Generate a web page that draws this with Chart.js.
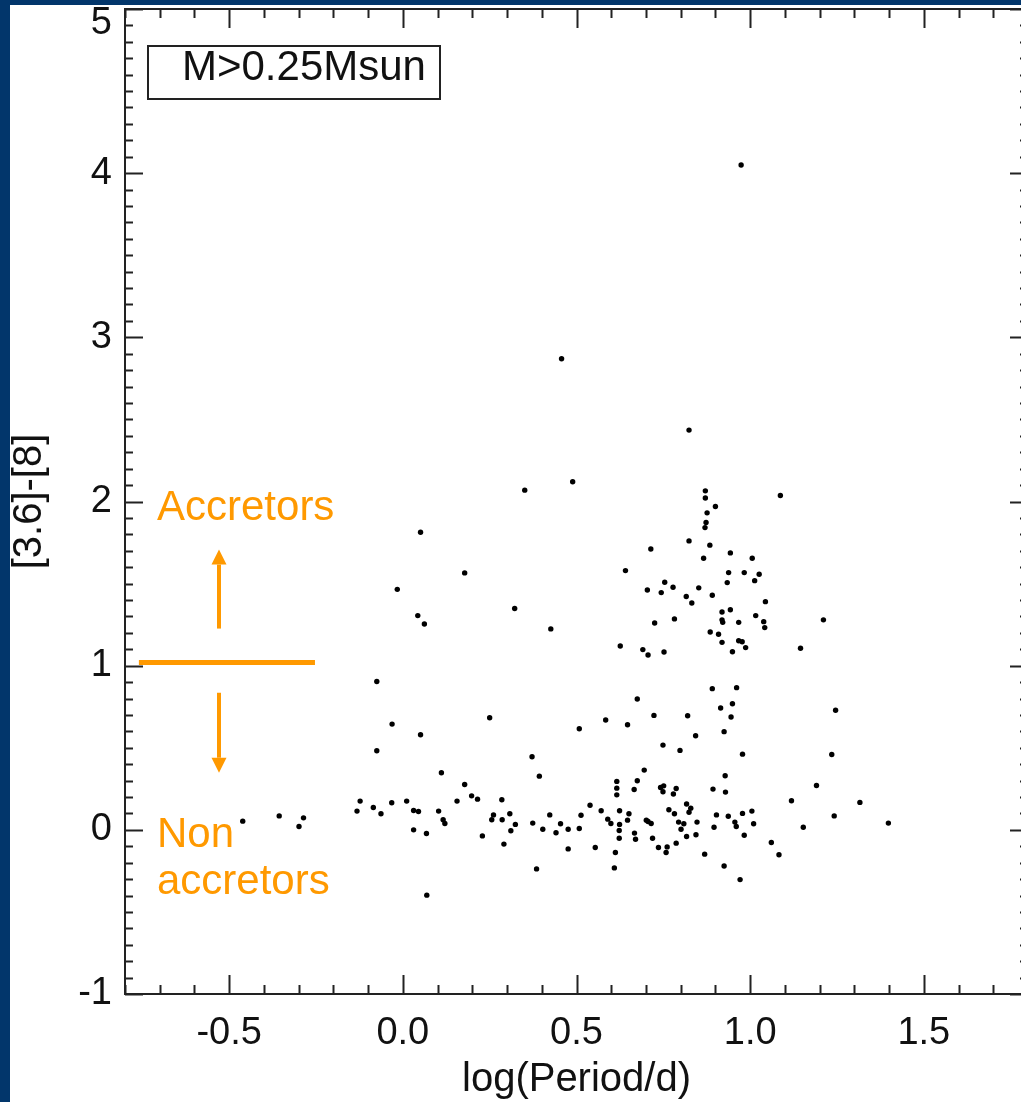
<!DOCTYPE html>
<html>
<head>
<meta charset="utf-8">
<title>[3.6]-[8] vs log(Period/d)</title>
<script src="https://cdn.jsdelivr.net/npm/chart.js@4.4.1/dist/chart.umd.min.js"></script>
<style>
    html, body { margin: 0; padding: 0; background: #ffffff; overflow: hidden; }
    #wrap { position: relative; width: 1021px; height: 1102px; overflow: hidden; }
    #perfChart { position: absolute; left: 0; top: 0; }
    .band { position: absolute; background: #02366b; }
    #bandLeft { left: 0; top: 0; width: 10px; height: 1102px; }
    #bandTop  { left: 0; top: 0; width: 1021px; height: 5px; }
</style>
</head>
<body>
<div id="wrap">
    <canvas id="perfChart" width="1040" height="1102"></canvas>
    <div class="band" id="bandLeft"></div>
    <div class="band" id="bandTop"></div>
</div>
<script>
// ═══════════════════════════════════════════════════════════════
// DATA
// ═══════════════════════════════════════════════════════════════

var logPeriod = [
    0.974, 0.457, 0.824, 0.489, 0.351, 0.871, 0.871, 1.087, 0.900, 0.876,
    0.873, 0.870, 0.051, 0.824, 0.884, 0.714, 0.943, 0.866, 1.006, 0.641,
    0.178, 0.938, 0.983, 1.026, 1.013, 0.934, 0.754, 0.778, -0.016, 0.704,
    0.744, 0.852, 0.816, 0.832, 0.891, 1.044, 0.943, 0.322, 0.919, 0.043,
    1.016, 0.782, 0.919, 0.921, 0.967, 1.039, 1.042, 0.725, 1.211, 0.062,
    0.426, 0.885, 0.909, 0.919, 0.967, 0.977, 0.987, 0.949, 0.626, 0.691,
    0.706, 0.752, 1.145,
    -0.075, -0.031, -0.075, 0.051, 0.250, 0.372, 0.393, 0.111, 0.178, 0.198,
    0.215, -0.461, -0.356, -0.286, -0.299, -0.132, -0.123, -0.085, -0.063, -0.032,
    0.011, 0.031, 0.045, 0.031, 0.068, 0.103, 0.116, 0.121, 0.156, 0.229,
    0.285, 0.261, 0.256, 0.286, 0.308, 0.324, 0.311, 0.291, 0.385, 0.374,
    0.423, 0.403, 0.441, 0.454, 0.476, 0.476, 0.069,
    0.508, 0.508, 0.513, 0.539, 0.554, 0.571, 0.584, 0.647, 0.675, 0.723,
    0.820, 0.891, 0.961, 0.915, 0.949, 0.945, 0.925, 0.843, 0.749, 0.798,
    0.978, 1.246, 1.235, 0.695, 0.616, 0.616, 0.616, 0.675, 0.666, 0.742,
    0.751, 0.749, 0.787, 0.779, 0.893, 0.928, 0.929, 1.191, 1.119, 1.316,
    1.242, 1.398, 1.153, 1.061, 1.083, 0.971, 0.925, 0.869, 0.609, 0.612,
    0.624, 0.651, 0.647, 0.590, 0.599, 0.624, 0.623, 0.623, 0.667, 0.670,
    0.701, 0.706, 0.715, 0.719, 0.736, 0.761, 0.758, 0.787, 0.766, 0.782,
    0.794, 0.809, 0.801, 0.817, 0.817, 0.829, 0.824, 0.847, 0.844, 0.903,
    0.896, 0.937, 0.956, 0.960, 0.978, 1.005, 1.010, 0.983
];

var irxColor = [
    4.050, 2.870, 2.435, 2.120, 2.069, 2.065, 2.021, 2.037, 1.970, 1.931,
    1.872, 1.841, 1.813, 1.760, 1.734, 1.711, 1.687, 1.654, 1.654, 1.579,
    1.565, 1.567, 1.567, 1.557, 1.518, 1.506, 1.508, 1.478, 1.465, 1.461,
    1.445, 1.474, 1.421, 1.382, 1.429, 1.390, 1.341, 1.348, 1.327, 1.305,
    1.305, 1.285, 1.279, 1.264, 1.264, 1.268, 1.232, 1.260, 1.279, 1.254,
    1.224, 1.205, 1.191, 1.142, 1.152, 1.146, 1.110, 1.085, 1.120, 1.098,
    1.065, 1.083, 1.106,
    0.904, 0.644, 0.482, 0.579, 0.683, 0.445, 0.327, 0.348, 0.276, 0.207,
    0.187, 0.053, 0.085, 0.073, 0.020, 0.114, 0.175, 0.136, 0.098, 0.165,
    0.175, 0.118, 0.112, 0.000, -0.022, 0.114, 0.061, 0.039, 0.175, -0.037,
    0.183, 0.091, 0.061, 0.061, 0.098, 0.033, -0.006, -0.087, -0.238, 0.041,
    0.091, 0.004, -0.018, 0.037, 0.004, -0.116, -0.398,
    0.616, 0.008, 0.089, 0.150, -0.108, 0.116, 0.669, 0.640, 0.797, 0.697,
    0.695, 0.860, 0.866, 0.742, 0.768, 0.687, 0.598, 0.573, 0.516, 0.484,
    0.461, 0.728, 0.459, 0.364, 0.295, 0.254, 0.213, 0.299, 0.246, 0.258,
    0.268, 0.232, 0.252, 0.218, 0.248, 0.329, 0.230, 0.270, 0.177, 0.167,
    0.085, 0.041, 0.016, -0.077, -0.152, -0.303, -0.220, -0.148, -0.232, -0.138,
    0.116, 0.098, 0.059, 0.065, 0.039, 0.033, -0.004, -0.051, -0.020, -0.057,
    0.059, 0.051, 0.039, -0.051, -0.108, -0.104, -0.138, -0.081, 0.122, 0.098,
    0.047, 0.037, 0.004, -0.041, 0.157, 0.132, 0.107, 0.047, -0.030, 0.091,
    0.016, 0.083, 0.047, 0.020, 0.100, 0.114, 0.037, -0.033
];

var xTickValues = [-0.5, 0.0, 0.5, 1.0, 1.5];
var yTickValues = [-1, 0, 1, 2, 3, 4, 5];

var panelLabel   = 'M>0.25Msun';
var xAxisTitle   = 'log(Period/d)';
var yAxisTitle   = '[3.6]-[8]';
var upperLabel   = 'Accretors';
var lowerLabel   = ['Non', 'accretors'];

// ═══════════════════════════════════════════════════════════════
// STYLE
// ═══════════════════════════════════════════════════════════════

var FONT   = '"Liberation Sans", Arial, Helvetica, sans-serif';
var INK    = '#111111';
var ORANGE = '#ff9900';

var points = logPeriod.map(function (x, i) { return { x: x, y: irxColor[i] }; });

// ═══════════════════════════════════════════════════════════════
// PLUGIN: IDL style frame with inward ticks + "5" label
// ═══════════════════════════════════════════════════════════════

var idlFrame = {
    id: 'idlFrame',
    afterDraw: function (chart) {
        var c  = chart.ctx;
        var a  = chart.chartArea;
        var sx = chart.scales.x;
        var sy = chart.scales.y;
        var v, p;

        c.save();
        c.strokeStyle = '#222222';
        c.lineWidth = 2;
        c.strokeRect(a.left, a.top, a.right - a.left, a.bottom - a.top);

        c.beginPath();
        // x ticks, bottom and top
        for (v = -8; v <= 18; v++) {
            p = Math.round(sx.getPixelForValue(v / 10)) + 0.5;
            var lx = (v % 5 === 0) ? 19 : 9;
            c.moveTo(p, a.bottom); c.lineTo(p, a.bottom - lx);
            c.moveTo(p, a.top);    c.lineTo(p, a.top + lx);
        }
        // y ticks, left and right
        for (v = -10; v <= 50; v++) {
            p = Math.round(sy.getPixelForValue(v / 10)) + 0.5;
            var ly = (v % 10 === 0) ? 18 : 8;
            c.moveTo(a.left, p);  c.lineTo(a.left + ly, p);
            c.moveTo(a.right, p); c.lineTo(a.right - ly, p);
        }
        c.stroke();

        // top "5" label sits lower than its tick in the figure
        c.fillStyle = INK;
        c.font = '38px ' + FONT;
        c.textAlign = 'right';
        c.textBaseline = 'middle';
        c.fillText('5', a.left - 13, sy.getPixelForValue(5) + 15);
        c.restore();
    }
};

// ═══════════════════════════════════════════════════════════════
// PLUGIN: panel label box + orange accretor annotations
// ═══════════════════════════════════════════════════════════════

var annotations = {
    id: 'annotations',
    afterDraw: function (chart) {
        var c  = chart.ctx;
        var a  = chart.chartArea;
        var sx = chart.scales.x;
        var sy = chart.scales.y;

        c.save();

        // panel label
        c.strokeStyle = '#222222';
        c.lineWidth = 2;
        c.strokeRect(a.left + 23, a.top + 37, 292, 53);
        c.fillStyle = INK;
        c.font = '42px ' + FONT;
        c.textAlign = 'left';
        c.textBaseline = 'alphabetic';
        c.fillText(panelLabel, a.left + 57, a.top + 71);

        // divider at [3.6]-[8] ~ 1
        var yDiv = sy.getPixelForValue(1.02);
        c.strokeStyle = ORANGE;
        c.lineWidth = 5;
        c.beginPath();
        c.moveTo(sx.getPixelForValue(-0.76), yDiv);
        c.lineTo(sx.getPixelForValue(-0.253), yDiv);
        c.stroke();

        // arrows
        var xa = Math.round(sx.getPixelForValue(-0.529));
        drawArrow(c, xa, sy.getPixelForValue(1.226), sy.getPixelForValue(1.707));
        drawArrow(c, xa, sy.getPixelForValue(0.835), sy.getPixelForValue(0.348));

        // texts
        c.fillStyle = ORANGE;
        c.font = '42px ' + FONT;
        c.fillText(upperLabel, 157, 520);
        c.fillText(lowerLabel[0], 157, 847);
        c.fillText(lowerLabel[1], 157, 894);

        c.restore();
    }
};

function drawArrow(c, x, yFrom, yTip) {
    var dir  = yTip < yFrom ? -1 : 1;
    var head = 15;
    c.strokeStyle = ORANGE;
    c.fillStyle = ORANGE;
    c.lineWidth = 4;
    c.beginPath();
    c.moveTo(x, yFrom);
    c.lineTo(x, yTip - dir * head);
    c.stroke();
    c.beginPath();
    c.moveTo(x, yTip);
    c.lineTo(x - 7.5, yTip - dir * head);
    c.lineTo(x + 7.5, yTip - dir * head);
    c.closePath();
    c.fill();
}

// ═══════════════════════════════════════════════════════════════
// CHART.JS
// ═══════════════════════════════════════════════════════════════

var ctx = document.getElementById('perfChart').getContext('2d');

var myChart = new Chart(ctx, {
    type: 'scatter',
    data: {
        datasets: [{
            label: 'stars',
            data: points,
            backgroundColor: '#000000',
            borderWidth: 0,
            pointRadius: 2.7,
            pointHoverRadius: 2.7
        }]
    },
    options: {
        responsive: false,
        animation: false,
        devicePixelRatio: 1,
        layout: { padding: { left: 0, top: 9, right: 12, bottom: 0 } },
        plugins: {
            legend: { display: false },
            tooltip: { enabled: false }
        },
        scales: {
            x: {
                type: 'linear',
                min: -0.8,
                max: 1.8,
                grid: { display: false, drawTicks: false },
                border: { display: false },
                afterBuildTicks: function (s) {
                    s.ticks = xTickValues.map(function (v) { return { value: v }; });
                },
                afterFit: function (s) {
                    s.height = 108;
                    s.paddingLeft = 0;
                    s.paddingRight = 0;
                },
                ticks: {
                    color: INK,
                    padding: 17,
                    maxRotation: 0,
                    font: { size: 38, family: FONT },
                    callback: function (v) { return Number(v).toFixed(1); }
                },
                title: {
                    display: true,
                    text: xAxisTitle,
                    color: INK,
                    padding: { top: 0, bottom: 2 },
                    font: { size: 40, family: FONT, lineHeight: 1 }
                }
            },
            y: {
                type: 'linear',
                min: -1,
                max: 5,
                grid: { display: false, drawTicks: false },
                border: { display: false },
                afterBuildTicks: function (s) {
                    s.ticks = yTickValues.map(function (v) { return { value: v }; });
                },
                afterFit: function (s) {
                    s.width = 125;
                    s.paddingTop = 0;
                    s.paddingBottom = 0;
                },
                ticks: {
                    color: INK,
                    padding: 13,
                    font: { size: 38, family: FONT },
                    callback: function (v) { return v === 5 ? '' : String(v); }
                },
                title: {
                    display: true,
                    text: yAxisTitle,
                    color: INK,
                    padding: { top: 10, bottom: 0 },
                    font: { size: 40, family: FONT, lineHeight: 1 }
                }
            }
        }
    },
    plugins: [idlFrame, annotations]
});
</script>
</body>
</html>
